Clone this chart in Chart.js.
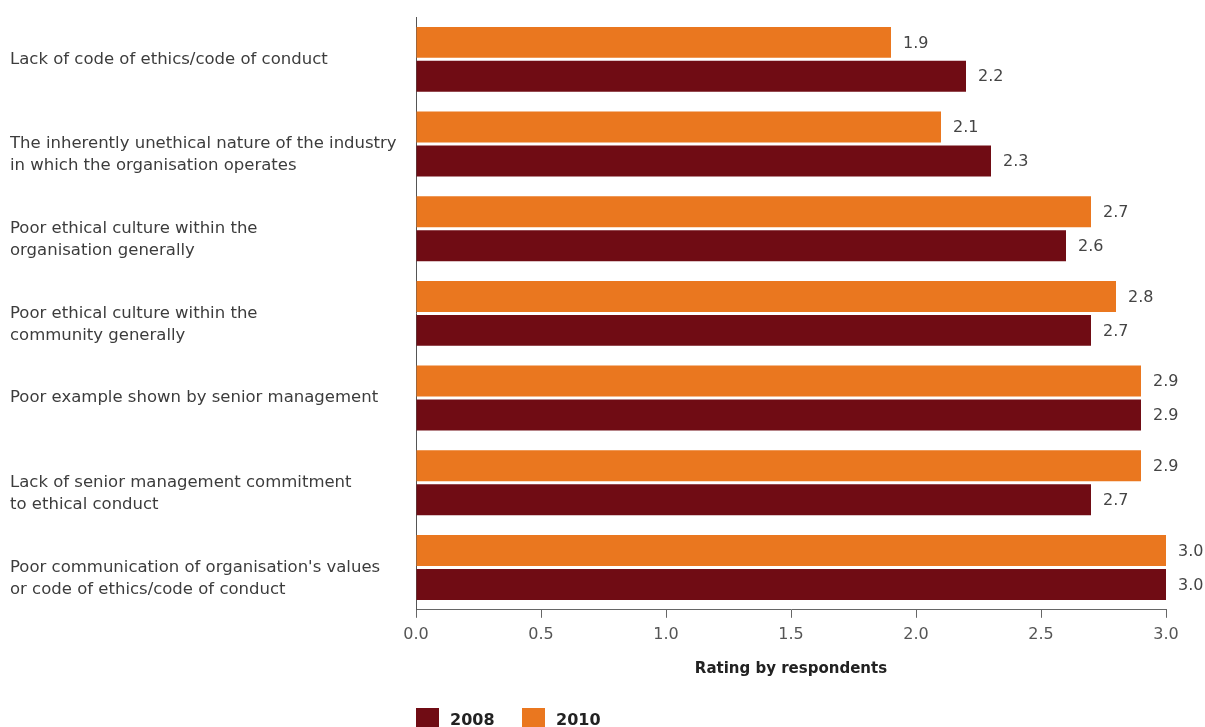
<!DOCTYPE html>
<html>
<head>
<meta charset="utf-8">
<script src="https://cdn.jsdelivr.net/npm/chart.js@4/dist/chart.umd.min.js"></script>
<style>
  html, body { margin: 0; padding: 0; background: #fff; }
  #wrap { width: 1205px; height: 727px; position: relative; }
</style>
</head>
<body>
<div id="wrap"><canvas id="c" width="1205" height="727"></canvas></div>
<script>
const categories = [
  ["Lack of code of ethics/code of conduct"],
  ["The inherently unethical nature of the industry", "in which the organisation operates"],
  ["Poor ethical culture within the", "organisation generally"],
  ["Poor ethical culture within the", "community generally"],
  ["Poor example shown by senior management"],
  ["Lack of senior management commitment", "to ethical conduct"],
  ["Poor communication of organisation's values", "or code of ethics/code of conduct"]
];
const values2010 = [1.9, 2.1, 2.7, 2.8, 2.9, 2.9, 3.0];
const values2008 = [2.2, 2.3, 2.6, 2.7, 2.9, 2.7, 3.0];
const xTicks = [0, 0.5, 1.0, 1.5, 2.0, 2.5, 3.0];

const COLOR_2008 = '#700c14';
const COLOR_2010 = '#ea771f';
const FONT = '"DejaVu Sans", sans-serif';

// value labels at the end of each bar
const valueLabels = {
  id: 'valueLabels',
  afterDatasetsDraw(chart) {
    const ctx = chart.ctx;
    ctx.save();
    ctx.font = '16px ' + FONT;
    ctx.fillStyle = '#444';
    ctx.textAlign = 'left';
    ctx.textBaseline = 'middle';
    chart.data.datasets.forEach((ds, i) => {
      chart.getDatasetMeta(i).data.forEach((bar, j) => {
        ctx.fillText(ds.data[j].toFixed(1), bar.x + 12, bar.y + 1);
      });
    });
    ctx.restore();
  }
};

// legend placed under the plot, aligned to its left edge
const bottomLegend = {
  id: 'bottomLegend',
  afterDraw(chart) {
    const ctx = chart.ctx;
    const left = chart.chartArea.left;
    const items = [
      { label: '2008', color: COLOR_2008, x: left },
      { label: '2010', color: COLOR_2010, x: left + 106 }
    ];
    ctx.save();
    ctx.font = 'bold 16px ' + FONT;
    ctx.textBaseline = 'middle';
    ctx.textAlign = 'left';
    items.forEach(it => {
      ctx.fillStyle = it.color;
      ctx.fillRect(it.x, 708, 23, 23);
      ctx.fillStyle = '#222';
      ctx.fillText(it.label, it.x + 34, 721);
    });
    ctx.restore();
  }
};

new Chart(document.getElementById('c'), {
  type: 'bar',
  data: {
    labels: categories,
    datasets: [
      { label: '2010', data: values2010, backgroundColor: COLOR_2010 },
      { label: '2008', data: values2008, backgroundColor: COLOR_2008 }
    ]
  },
  options: {
    indexAxis: 'y',
    responsive: false,
    animation: false,
    categoryPercentage: 0.802,
    barPercentage: 0.912,
    layout: { padding: { left: 10, right: 39, top: 17, bottom: 41 } },
    plugins: {
      legend: { display: false },
      tooltip: { enabled: false }
    },
    scales: {
      x: {
        min: 0,
        max: 3,
        afterBuildTicks(axis) { axis.ticks = xTicks.map(v => ({ value: v })); },
        grid: { drawOnChartArea: false, drawTicks: true, tickLength: 8, color: '#666' },
        border: { color: '#666', width: 1 },
        ticks: {
          padding: 7,
          color: '#555',
          font: { family: FONT, size: 16 },
          callback: v => Number(v).toFixed(1)
        },
        title: {
          display: true,
          text: 'Rating by respondents',
          color: '#222',
          font: { family: FONT, size: 15, weight: 'bold' },
          padding: { top: 9, bottom: 8 }
        }
      },
      y: {
        grid: { drawOnChartArea: false, drawTicks: false },
        border: { color: '#555', width: 1 },
        ticks: {
          crossAlign: 'far',
          padding: 0,
          color: '#3c3c3c',
          font: { family: FONT, size: 16.5, lineHeight: 1.333 },
          // two-line labels start at the bar pair's centre line
          callback: (v, i) => {
            const lines = categories[i];
            return lines.length > 1 ? ['', ...lines] : lines;
          }
        },
        afterFit(scale) {
          scale.width = 406;
          scale.paddingTop = 0;
          scale.paddingBottom = 0;
        }
      }
    }
  },
  plugins: [valueLabels, bottomLegend]
});
</script>
</body>
</html>
